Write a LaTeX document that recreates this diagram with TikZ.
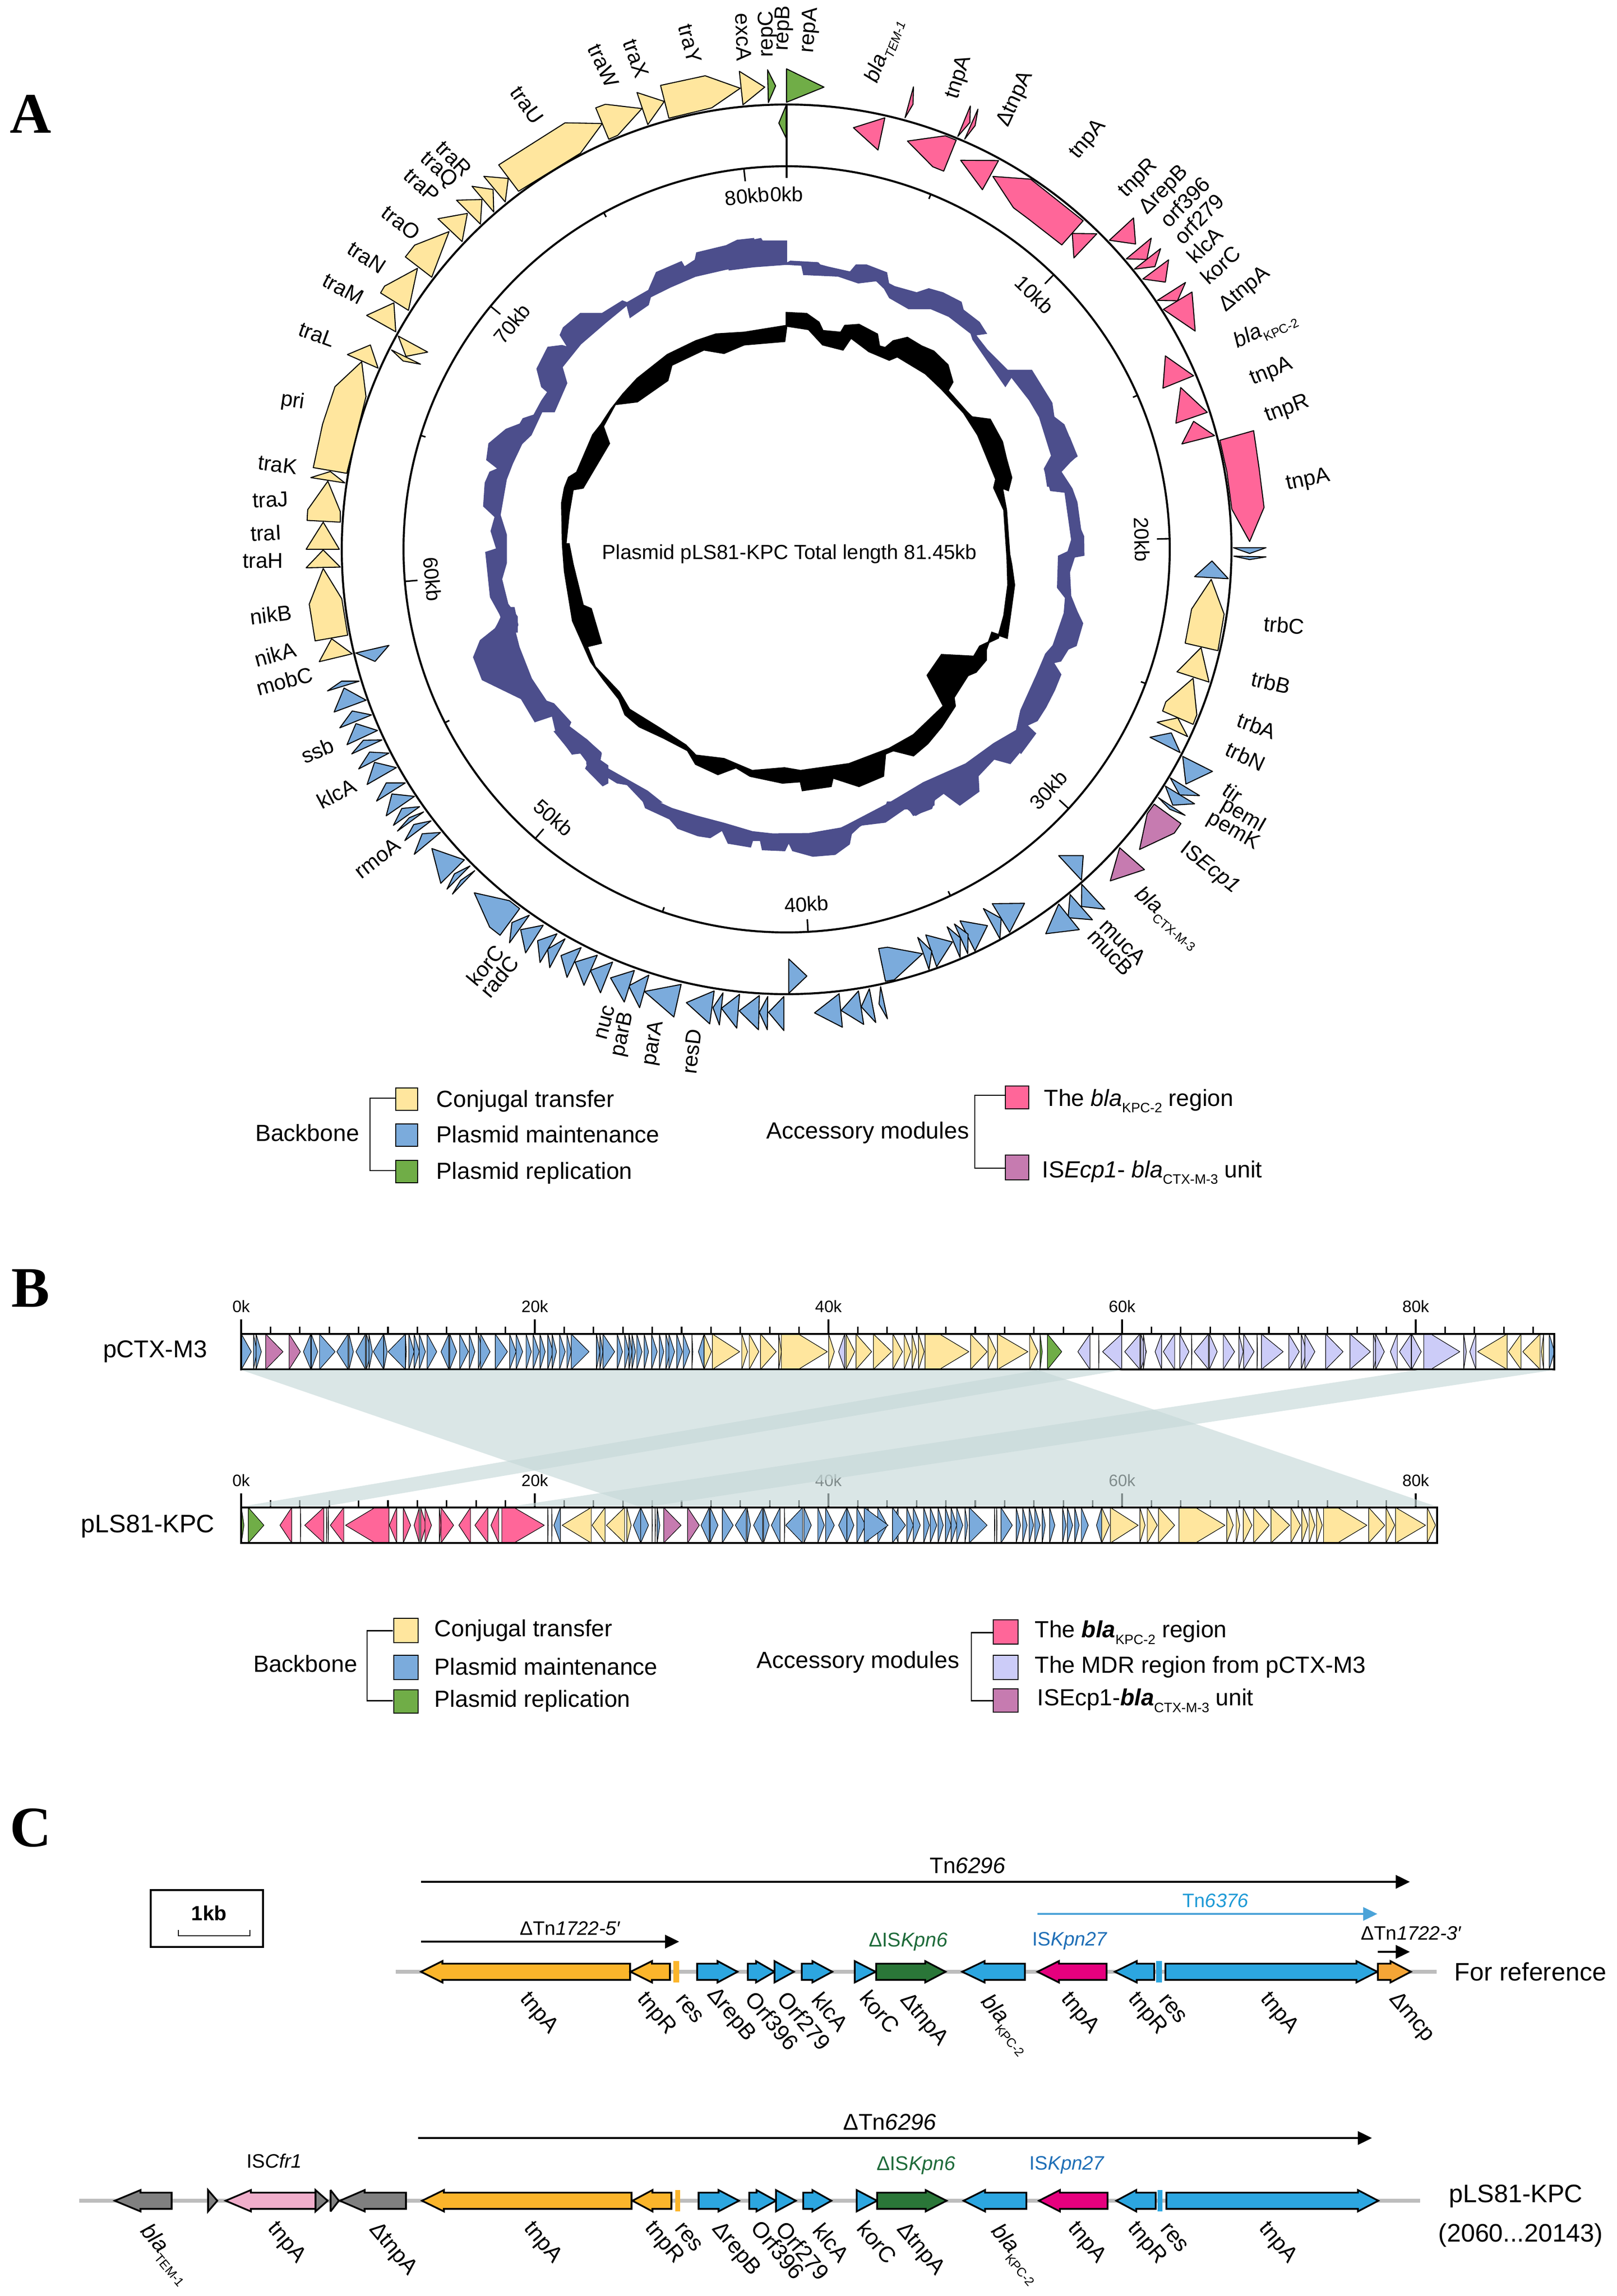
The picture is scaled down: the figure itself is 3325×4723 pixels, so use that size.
\documentclass[tikz,border=0pt]{standalone}
\usepackage{fontspec}
\setmainfont{Liberation Sans}
\newfontfamily\serifb{Liberation Serif}
\usetikzlibrary{arrows.meta}
\newdimen\fdim
\newcommand\fpx[1]{\fdim=#1pt \fdim=0.24\fdim \fontsize{\fdim}{1.2\fdim}\selectfont}
\newcommand\bla[2]{\textit{bla}\raisebox{-.55ex}{\fpx{#1}#2}}
\newcommand\blb[2]{\textbf{\textit{bla}}\raisebox{-.55ex}{\fpx{#1}#2}}
\definecolor{gY}{HTML}{FFE69E}
\definecolor{gB}{HTML}{7BABDC}
\definecolor{gP}{HTML}{FF6699}
\definecolor{gG}{HTML}{70AD47}
\definecolor{gV}{HTML}{C67BB0}
\definecolor{gL}{HTML}{CCCCF8}
\definecolor{ringP}{HTML}{4C4E8C}
\definecolor{bandc}{rgb}{.776,.849,.849}
\definecolor{cO}{HTML}{FBB52B}
\definecolor{cB}{HTML}{2CA6E0}
\definecolor{cG}{HTML}{2A7638}
\definecolor{cM}{HTML}{E6007E}
\definecolor{cK}{HTML}{F5A536}
\definecolor{cPk}{HTML}{F0AECB}
\definecolor{cGy}{HTML}{808080}
\definecolor{cLn}{HTML}{BDBDBD}
\definecolor{tG}{HTML}{1E6B3A}
\definecolor{tB}{HTML}{1F6FB7}
\definecolor{tC}{HTML}{1E9AD6}
\definecolor{aC}{HTML}{4BA3D8}
\newcounter{lb}
\newcommand\glab[4]{\stepcounter{lb}\node[lab,rotate=#3] (lb\thelb) at (#1,#2) {#4};}
\newcommand\clab[3]{\stepcounter{lb}\node[clabs] (lb\thelb) at (#1,#2) {#3};}
\newcommand\bt[4]{\foreach \ta/\tb in {#4}{\draw[bgene=#1] (\ta,#2)--(\tb,{(#2+#3)/2})--(\ta,#3)--cycle;}}
\newcommand\bp[6]{\draw[bgene=#1] (#4,#2)--(#5,#2)--(#6,{(#2+#3)/2})--(#5,#3)--(#4,#3)--cycle;}
\newcommand\carr[5]{\draw[cgene=#1] (#3,{#2-16.7})--(#4,{#2-16.7})--(#4,{#2-22})--(#5,#2)--(#4,{#2+22})--(#4,{#2+16.7})--(#3,{#2+16.7})--cycle;}
\newcommand\tnarrow[6]{\coordinate (#1s) at (#3,#4); \coordinate (#1e) at (#5,#4); \draw[tnar,draw=#2,fill=#2,line width=#6] (#1s)--(#1e);}
\tikzset{
 zm/.style n args={4}{shift={(#1,#2)},xscale=#3/1568,yscale=#4/1568},
 gene/.style={draw=black,line width=0.5pt,line join=round,fill=#1},
 bgene/.style={draw=black,line width=0.28pt,line join=round,fill=#1},
 cgene/.style={draw=black,line width=0.85pt,line join=miter,miter limit=3,fill=#1},
 lab/.style={font=\fpx{44},inner sep=0pt,anchor=center},
 clabs/.style={font=\fpx{46},inner sep=0pt,anchor=center,rotate=-50},
 kbl/.style={font=\fpx{42},inner sep=0pt,anchor=center},
 tick/.style={line width=0.75pt},
 ring/.style={line width=1pt},
 rp/.style={fill=ringP,draw=ringP,line width=0.7pt,line join=miter},
 leg/.style={font=\fpx{48},inner sep=0pt,anchor=west},
 legb/.style={font=\fpx{48},inner sep=0pt,anchor=base west},
 legc/.style={font=\fpx{48},inner sep=0pt,anchor=base},
 lbox/.style={draw=black,line width=0.5pt,fill=#1},
 brk/.style={line width=0.7pt},
 tnar/.style={-{Triangle[length=7pt,width=6.6pt]}},
 panel/.style={font=\fpx{118}\serifb\bfseries,inner sep=0pt,anchor=center},
 tlab/.style={font=\fpx{34},inner sep=0pt,anchor=center},
}
\begin{document}
\begin{tikzpicture}[x=0.24pt,y=-0.24pt]
\useasboundingbox (0,0) rectangle (3325,4723);
\node[panel] (pA) at (63,235) {A};
\node[panel] (pB) at (63,2650) {B};
\node[panel] (pC) at (63,3760) {C};
% ---- rings
\draw[ring] (1618,1130) circle[radius=915];
\draw[ring] (1618,1130) circle[radius=788];
\draw[ring] (1618,215)--(1618,366);
\foreach \k in {5,10,...,80}{
 \pgfmathtruncatemacro\mm{mod(\k,10)}
 \pgfmathsetmacro\tl{\mm==0?762:778}
 \pgfmathsetmacro\cw{\k/81.45*360}
 \draw[line width=0.75pt] ({1618+788*sin(\cw)},{1130-788*cos(\cw)})--({1618+\tl*sin(\cw)},{1130-\tl*cos(\cw)});
}
\foreach \k/\rr in {0/0,10/-44.2,20/-88.4,30/47.4,40/3.2,50/-41,60/-85.2,70/50.6,80/6.4}{
 \pgfmathsetmacro\cw{\k/81.45*360}
 \node[kbl,rotate=\rr] (kb\k) at ({1618+731*sin(\cw)},{1130-731*cos(\cw)}) {\k kb};
}
% ---- purple ring
\begin{scope}[zm={1500}{0}{1300}{1000}]
\path[rp] (0,800)--(20,785)--(78,770)--(82,778)--(142,778)--(142,850)--(152,843)--(220,848)--(225,855)--(245,862)--(300,878)--(315,855)--(340,855)--(390,880)--(395,915)--(410,925)--(465,945)--(495,932)--(530,945)--(575,975)--(580,1000)--(620,1040)--(637,1075)--(610,1080)--(640,1130)--(690,1195)--(750,1195)--(800,1300)--(805,1345)--(830,1370)--(862,1470)--(845,1490)--(820,1525)--(845,1568)--(790,1568)--(783,1510)--(800,1470)--(770,1345)--(745,1290)--(700,1215)--(685,1245)--(650,1180)--(605,1095)--(600,1075)--(545,1020)--(500,995)--(445,995)--(398,960)--(385,930)--(365,905)--(320,912)--(270,890)--(185,885)--(180,855)--(142,852)--(60,860)--(0,870)--cycle;
\end{scope}
\begin{scope}[zm={2100}{900}{800}{1100}]
\path[rp] (195,0)--(225,55)--(165,80)--(160,100)--(205,150)--(225,190)--(240,270)--(252,290)--(253,345)--(215,350)--(195,395)--(200,465)--(225,510)--(248,545)--(222,610)--(190,620)--(160,655)--(130,660)--(160,695)--(135,740)--(100,790)--(65,830)--(20,845)--(58,868)--(0,925)--(-30,900)--(0,800)--(65,695)--(100,635)--(130,610)--(175,515)--(180,470)--(148,440)--(152,348)--(190,335)--(205,300)--(178,160)--(120,155)--(95,92)--(125,60)--(135,40)--(110,0)--cycle;
\end{scope}
\begin{scope}[zm={1000}{600}{1300}{1100}]
\path[rp] (1340,1270)--(1362,1295)--(1300,1383)--(1260,1370)--(1220,1420)--(1222,1465)--(1175,1505)--(1135,1470)--(1112,1490)--(1105,1515)--(1060,1535)--(1045,1510)--(990,1555)--(900,1568)--(890,1568)--(1000,1500)--(1085,1440)--(1190,1385)--(1260,1325)--cycle;
\path[rp] (205,1275)--(250,1315)--(285,1355)--(280,1385)--(400,1465)--(433,1496)--(391,1496)--(350,1445)--(325,1440)--(250,1385)--(250,1350)--(215,1355)--(170,1290)--cycle;
\end{scope}
\begin{scope}[zm={1100}{1650}{1300}{600}]
\path[rp] (270,0)--(275,30)--(335,90)--(355,140)--(405,180)--(435,190)--(465,150)--(480,220)--(535,240)--(540,205)--(560,205)--(565,255)--(620,260)--(630,215)--(640,260)--(690,290)--(745,280)--(780,225)--(785,170)--(805,130)--(875,40)--(925,35)--(945,70)--(990,15)--(990,0)--(875,0)--(870,35)--(810,90)--(760,140)--(680,170)--(590,172)--(540,160)--(470,115)--(400,75)--(340,35)--(305,0)--cycle;
\end{scope}
\begin{scope}[zm={450}{1250}{800}{850}]
\path[rp] (1190,0)--(1205,65)--(1195,95)--(1210,150)--(1260,270)--(1320,355)--(1350,365)--(1418,435)--(1405,465)--(1450,510)--(1480,500)--(1540,550)--(1530,575)--(1568,600)--(1568,665)--(1548,675)--(1480,610)--(1490,590)--(1450,540)--(1425,555)--(1360,470)--(1345,410)--(1275,432)--(1220,345)--(1063,273)--(1028,188)--(1055,125)--(1115,80)--(1140,40)--(1125,0)--cycle;
\end{scope}
\begin{scope}[zm={550}{150}{1000}{1150}]
\path[rp] (732,1568)--(755,1525)--(720,1470)--(705,1345)--(740,1335)--(722,1285)--(735,1245)--(698,1215)--(703,1150)--(718,1120)--(745,1110)--(708,1085)--(715,1040)--(770,1000)--(815,985)--(825,970)--(860,960)--(885,920)--(905,895)--(885,880)--(870,830)--(905,770)--(950,765)--(970,770)--(945,735)--(955,715)--(1010,675)--(1080,675)--(1145,640)--(1160,645)--(1230,610)--(1255,560)--(1335,530)--(1345,545)--(1380,525)--(1385,505)--(1480,485)--(1515,470)--(1568,465)--(1568,540)--(1480,550)--(1380,570)--(1300,600)--(1235,628)--(1228,650)--(1170,685)--(1160,650)--(1090,700)--(1010,760)--(950,825)--(965,870)--(925,950)--(885,950)--(850,1015)--(820,1040)--(790,1095)--(770,1140)--(750,1240)--(770,1295)--(770,1375)--(755,1420)--(775,1490)--(805,1525)--(805,1568)--cycle;
\end{scope}
% ---- black ring
\begin{scope}[zm={1000}{600}{1300}{1100}]
\filldraw[black,line width=0.9pt,even odd rule] (745,62)--(795,65)--(825,90)--(835,115)--(880,120)--(890,100)--(925,97)--(970,125)--(975,160)--(990,165)--(1010,145)--(1045,135)--(1080,160)--(1110,175)--(1145,215)--(1157,265)--(1145,290)--(1190,350)--(1205,368)--(1250,375)--(1280,440)--(1290,490)--(1303,545)--(1295,582)--(1280,575)--(1290,640)--(1298,770)--(1303,800)--(1310,860)--(1302,930)--(1292,1015)--(1255,1000)--(1240,1050)--(1240,1080)--(1215,1115)--(1195,1125)--(1160,1190)--(1163,1215)--(1130,1275)--(1095,1325)--(1060,1360)--(1010,1345)--(990,1355)--(985,1420)--(925,1450)--(860,1425)--(855,1450)--(785,1462)--(780,1436)--(735,1440)--(655,1420)--(620,1395)--(575,1415)--(520,1385)--(500,1345)--(440,1308)--(380,1275)--(345,1240)--(330,1195)--(290,1135)--(260,1085)--(245,1045)--(215,965)--(195,820)--(190,740)--(188,620)--(195,575)--(205,545)--(225,530)--(265,420)--(285,390)--(310,345)--(340,300)--(375,255)--(450,185)--(520,145)--(570,125)--(640,120)--(745,100)--cycle
 (745,100)--(800,110)--(835,155)--(885,170)--(905,135)--(950,175)--(1000,200)--(1020,190)--(1090,240)--(1130,285)--(1185,355)--(1220,420)--(1265,550)--(1260,575)--(1285,640)--(1293,780)--(1295,860)--(1285,950)--(1270,1015)--(1225,1040)--(1210,1070)--(1130,1065)--(1095,1125)--(1135,1215)--(1060,1300)--(1000,1340)--(900,1385)--(780,1405)--(740,1397)--(660,1405)--(590,1370)--(520,1360)--(495,1330)--(430,1280)--(355,1225)--(330,1175)--(270,1100)--(250,1040)--(285,1030)--(260,930)--(240,920)--(215,800)--(205,740)--(197,740)--(205,650)--(215,580)--(240,575)--(305,445)--(290,395)--(320,330)--(375,322)--(450,260)--(460,215)--(540,170)--(590,180)--(640,155)--(740,145)--cycle;
\end{scope}
\node[font=\fpx{42},inner sep=0pt] (ctitle) at (1624,1140) {Plasmid pLS81-KPC Total length 81.45kb};
% ---- circular genes, top right
\begin{scope}[zm={1500}{0}{1300}{1000}]
\draw[gene=gG] (142,222)--(142,330)--(235,281)--cycle;
\draw[gene=gG] (95,225)--(97,331)--(115,277)--cycle;
\draw[gene=gG] (141,340)--(123,397)--(141,445)--cycle;
\draw[gene=gY] (25,230)--(34,338)--(88,281)--cycle;
\draw[gene=gP] (457,280)--(436,380)--(456,336)--cycle;
\draw[gene=gP] (308,412)--(386,380)--(369,484)--cycle;
\draw[gene=gP] (598,342)--(567,440)--(597,395)--cycle;
\draw[gene=gP] (617,352)--(584,449)--(610,405)--cycle;
\draw[gene=gP] (442,455)--(536,438)--(563,452)--(532,552)--(505,538)--cycle;
\draw[gene=gP] (574,517)--(668,518)--(628,612)--cycle;
\draw[gene=gP] (654,569)--(748,578)--(878,712)--(825,790)--(742,706)--(705,670)--cycle;
\draw[gene=gP] (851,753)--(912,754)--(855,832)--cycle;
\draw[gene=gP] (943,775)--(1003,703)--(1008,787)--cycle;
\draw[gene=gP] (985,835)--(1047,768)--(1036,837)--cycle;
\draw[gene=gP] (1005,868)--(1070,802)--(1056,860)--cycle;
\draw[gene=gP] (1026,900)--(1090,838)--(1082,910)--cycle;
\draw[gene=gP] (1062,969)--(1132,911)--(1112,970)--cycle;
\draw[gene=gP] (1077,998)--(1148,942)--(1156,1068)--cycle;
\draw[gene=gP] (1082,1148)--(1152,1212)--(1076,1252)--cycle;
\draw[gene=gP] (1120,1250)--(1186,1330)--(1108,1365)--cycle;
\draw[gene=gP] (1152,1359)--(1204,1405)--(1123,1432)--cycle;
\end{scope}
% ---- right
\begin{scope}[zm={2100}{900}{800}{1100}]
\draw[gene=gP] (802,8)--(938,-20)--(960,90)--(980,205)--(922,305)--(850,210)--(830,100)--cycle;
\draw[gene=gB] (856,323)--(988,323)--(922,340)--cycle;
\draw[gene=gB] (858,348)--(988,350)--(922,358)--cycle;
\draw[gene=gB] (700,408)--(770,362)--(836,414)--cycle;
\draw[gene=gY] (767,416)--(819,518)--(794,625)--(662,603)--(688,503)--cycle;
\draw[gene=gY] (726,616)--(758,717)--(629,687)--cycle;
\draw[gene=gY] (694,706)--(709,813)--(694,841)--(571,802)--(584,775)--cycle;
\draw[gene=gY] (632,822)--(672,877)--(549,835)--cycle;
\draw[gene=gB] (606,866)--(642,924)--(520,879)--cycle;
\draw[gene=gB] (652,935)--(772,979)--(665,1016)--cycle;
\draw[gene=gB] (602,998)--(720,1050)--(640,1048)--cycle;
\draw[gene=gB] (582,1022)--(700,1074)--(612,1078)--cycle;
\draw[gene=gB] (554,1056)--(662,1108)--(600,1090)--cycle;
\draw[gene=gV] (537,1075)--(645,1132)--(618,1160)--(478,1208)--(509,1103)--cycle;
\draw[gene=gV] (398,1203)--(498,1267)--(360,1300)--cycle;
\draw[gene=gB] (152,1226)--(251,1226)--(244,1298)--cycle;
\draw[gene=gB] (245,1310)--(338,1383)--(244,1375)--cycle;
\draw[gene=gB] (198,1340)--(288,1414)--(190,1408)--cycle;
\draw[gene=gB] (152,1368)--(235,1443)--(100,1455)--cycle;
\end{scope}
% ---- bottom
\begin{scope}[zm={1100}{1650}{1300}{600}]
\draw[gene=gB] (1135,546)--(1215,544)--(1178,700)--cycle;
\draw[gene=gB] (1113,572)--(1157,625)--(1154,735)--cycle;
\draw[gene=gB] (1055,638)--(1123,664)--(1092,800)--cycle;
\draw[gene=gB] (1041,655)--(1075,710)--(1074,815)--cycle;
\draw[gene=gB] (1023,670)--(1056,730)--(1055,835)--cycle;
\draw[gene=gB] (970,714)--(1036,752)--(997,885)--cycle;
\draw[gene=gB] (950,727)--(985,800)--(978,900)--cycle;
\draw[gene=gB] (853,787)--(875,780)--(962,815)--(892,955)--(870,963)--cycle;
\draw[gene=gB] (630,843)--(675,935)--(630,1028)--cycle;
\draw[gene=gB] (858,992)--(875,1165)--(854,1085)--cycle;
\draw[gene=gB] (830,1003)--(846,1185)--(810,1100)--cycle;
\draw[gene=gB] (803,1015)--(816,1195)--(760,1120)--cycle;
\draw[gene=gB] (755,1030)--(763,1210)--(694,1133)--cycle;
\draw[gene=gB] (618,1045)--(618,1228)--(580,1130)--cycle;
\draw[gene=gB] (578,1045)--(577,1224)--(557,1130)--cycle;
\draw[gene=gB] (557,1040)--(555,1224)--(507,1122)--cycle;
\draw[gene=gB] (508,1033)--(501,1215)--(463,1108)--cycle;
\draw[gene=gB] (467,1025)--(458,1198)--(442,1105)--cycle;
\draw[gene=gB] (445,1015)--(434,1192)--(376,1078)--cycle;
\draw[gene=gB] (363,980)--(345,1155)--(272,1018)--cycle;
\draw[gene=gB] (283,930)--(260,1105)--(233,988)--cycle;
\draw[gene=gB] (247,905)--(222,1075)--(188,945)--cycle;
\draw[gene=gB] (193,860)--(163,1025)--(138,905)--cycle;
\draw[gene=gB] (155,823)--(122,985)--(100,860)--cycle;
\draw[gene=gB] (115,782)--(80,942)--(65,825)--cycle;
\draw[gene=gB] (75,735)--(37,890)--(32,790)--cycle;
\draw[gene=gB] (55,708)--(13,862)--(7,745)--cycle;
\end{scope}
% ---- lower left
\begin{scope}[zm={450}{1250}{800}{850}]
\draw[gene=gY] (455,118)--(538,175)--(405,205)--cycle;
\draw[gene=gB] (552,172)--(686,143)--(630,204)--cycle;
\draw[gene=gB] (566,279)--(495,279)--(438,316)--cycle;
\draw[gene=gB] (594,351)--(505,305)--(465,396)--cycle;
\draw[gene=gB] (616,407)--(538,392)--(488,456)--cycle;
\draw[gene=gB] (640,466)--(553,440)--(517,520)--cycle;
\draw[gene=gB] (658,502)--(583,503)--(536,555)--cycle;
\draw[gene=gB] (686,552)--(608,548)--(564,612)--cycle;
\draw[gene=gB] (716,607)--(628,587)--(598,671)--cycle;
\draw[gene=gB] (752,665)--(675,665)--(636,734)--cycle;
\draw[gene=gB] (789,716)--(698,707)--(675,790)--cycle;
\draw[gene=gB] (810,755)--(738,762)--(704,826)--cycle;
\draw[gene=gB] (826,775)--(768,797)--(720,848)--cycle;
\draw[gene=gB] (856,809)--(786,823)--(750,884)--cycle;
\draw[gene=gB] (894,853)--(820,858)--(788,936)--cycle;
\draw[gene=gB] (990,957)--(859,914)--(895,1046)--cycle;
\draw[gene=gB] (1013,980)--(950,1010)--(920,1068)--cycle;
\draw[gene=gB] (1032,998)--(975,1035)--(942,1087)--cycle;
\draw[gene=gB] (1213,1142)--(1172,1112)--(1030,1082)--(1092,1212)--(1134,1243)--cycle;
\draw[gene=gB] (1252,1167)--(1182,1195)--(1172,1272)--cycle;
\draw[gene=gB] (1308,1205)--(1217,1222)--(1237,1310)--cycle;
\end{scope}
% ---- upper left
\begin{scope}[zm={550}{150}{1000}{1150}]
\draw[gene=gY] (135,1490)--(180,1390)--(240,1475)--(259,1577)--(154,1593)--cycle;
\draw[gene=gY] (180,1338)--(235,1386)--(125,1388)--cycle;
\draw[gene=gY] (180,1260)--(232,1336)--(125,1336)--cycle;
\draw[gene=gY] (195,1145)--(235,1230)--(235,1260)--(128,1255)--(130,1225)--cycle;
\draw[gene=gY] (203,1118)--(250,1150)--(140,1135)--cycle;
\draw[gene=gY] (304,810)--(318,908)--(256,1123)--(148,1107)--(178,985)--(218,880)--cycle;
\draw[gene=gY] (332,763)--(357,828)--(258,790)--cycle;
\draw[gene=gY] (422,738)--(517,783)--(447,795)--cycle;
\draw[gene=gY] (400,777)--(494,817)--(438,808)--cycle;
\draw[gene=gY] (408,645)--(414,726)--(320,680)--cycle;
\draw[gene=gY] (484,548)--(455,666)--(365,617)--(378,598)--cycle;
\draw[gene=gY] (586,445)--(530,573)--(445,516)--(475,483)--cycle;
\draw[gene=gY] (645,394)--(628,473)--(550,409)--cycle;
\draw[gene=gY] (692,355)--(687,424)--(610,357)--cycle;
\draw[gene=gY] (728,327)--(730,390)--(660,318)--cycle;
\draw[gene=gY] (777,296)--(767,362)--(698,290)--cycle;
\draw[gene=gY] (1080,142)--(1010,225)--(810,332)--(746,258)--(960,140)--cycle;
\draw[gene=gY] (1208,100)--(1130,175)--(1101,186)--(1059,98)--(1090,88)--cycle;
\draw[gene=gY] (1280,80)--(1227,145)--(1192,55)--cycle;
\draw[gene=gY] (1525,43)--(1433,98)--(1295,127)--(1268,35)--(1412,8)--cycle;
\end{scope}
% ---- circular labels
\glab{1529}{76}{-88}{excA}
\glab{1579}{70}{90}{repC}
\glab{1612}{58}{88}{repB}
\glab{1666}{62}{85}{repA}
\glab{1819}{105}{70}{\bla{26}{\textit{TEM-1}}}
\glab{1973}{159}{72}{tnpA}
\glab{2089}{204}{65}{ΔtnpA}
\glab{2238}{287}{50}{tnpA}
\glab{2342}{367}{45}{tnpR}
\glab{2395}{392}{45}{ΔrepB}
\glab{2437}{415}{45}{orf396}
\glab{2466}{450}{45}{orf279}
\glab{2478}{504}{45}{klcA}
\glab{2510}{545}{42}{korC}
\glab{2561}{596}{40}{ΔtnpA}
\glab{2603}{679}{25}{\bla{26}{KPC-2}}
\glab{2615}{765}{22}{tnpA}
\glab{2648}{842}{20}{tnpR}
\glab{2691}{988}{12}{tnpA}
\glab{2641}{1286}{-5}{trbC}
\glab{2614}{1404}{-13}{trbB}
\glab{2585}{1493}{-20}{trbA}
\glab{2562}{1556}{-25}{trbN}
\glab{2536}{1630}{-35}{tir}
\glab{2557}{1679}{-30}{pemI}
\glab{2536}{1710}{-30}{pemK}
\glab{2488}{1786}{-38}{IS\textit{Ecp1}}
\glab{2401}{1889}{-40}{\bla{26}{CTX-M-3}}
\glab{2310}{1937}{-45}{mucA}
\glab{2284}{1959}{-47}{mucB}
\glab{1423}{2163}{83}{resD}
\glab{1345}{2146}{80}{parA}
\glab{1282}{2128}{78}{parB}
\glab{1245}{2103}{75}{nuc}
\glab{998}{1986}{50}{korC}
\glab{1027}{2009}{50}{radC}
\glab{776}{1765}{38}{rmoA}
\glab{692}{1632}{28}{klcA}
\glab{653}{1544}{22}{ssb}
\glab{585}{1401}{15}{mobC}
\glab{566}{1346}{15}{nikA}
\glab{557}{1264}{7}{nikB}
\glab{541}{1154}{0}{traH}
\glab{547}{1097}{3}{traI}
\glab{556}{1028}{3}{traJ}
\glab{571}{956}{-7}{traK}
\glab{602}{826}{-8}{pri}
\glab{652}{688}{-20}{traL}
\glab{706}{594}{-28}{traM}
\glab{754}{530}{-33}{traN}
\glab{825}{458}{-38}{traO}
\glab{867}{381}{-42}{traP}
\glab{902}{350}{-42}{traQ}
\glab{933}{326}{-45}{traR}
\glab{1084}{216}{-55}{traU}
\glab{1241}{135}{-65}{traW}
\glab{1308}{120}{-70}{traX}
\glab{1419}{90}{-75}{traY}
% ---- legend A
\node[legc] (lgA1) at (632,2347) {Backbone};
\draw[brk] (814,2259)--(761,2259)--(761,2408)--(814,2408);
\draw[lbox=gY] (814,2238) rectangle (859,2284);
\draw[lbox=gB] (814,2312) rectangle (859,2358);
\draw[lbox=gG] (814,2387) rectangle (859,2433);
\node[legb] (lgA2) at (897,2277) {Conjugal transfer};
\node[legb] (lgA3) at (897,2350) {Plasmid maintenance};
\node[legb] (lgA4) at (897,2425) {Plasmid replication};
\node[legc] (lgA5) at (1785,2342) {Accessory modules};
\draw[brk] (2068,2253)--(2005,2253)--(2005,2403)--(2068,2403);
\draw[lbox=gP] (2068,2234) rectangle (2116,2281);
\draw[lbox=gV] (2068,2376) rectangle (2116,2427);
\node[legb] (lgA6) at (2147,2275) {The \bla{28}{KPC-2} region};
\node[legb] (lgA7) at (2143,2422) {IS\textit{Ecp1}- \bla{28}{CTX-M-3} unit};
% ---- panel B tracks
\node[font=\fpx{50},inner sep=0pt] (t1) at (319,2780) {pCTX-M3};
\node[font=\fpx{52},inner sep=0pt] (t2) at (304,3140) {pLS81-KPC};
\begin{scope}[shift={(450,0)},xscale=1400/1568]
\bt{gB}{2744}{2817}{52/75,80/88,86/98,212/195,213/228,232/268,298/272,300/310,338/316,340/352,346/354,380/356,380/388,430/390,430/432,438/450,450/462,462/476,480/502,530/512,532/548,555/575,577/590,598/608,603/625,637/665,670/685,685/700,708/720,724/738,740/752,758/770,768/778,785/798,802/812,812/853,870/878,878/885,885/912,918/930,935/945,945/952,952/960,963/975,980/990,997/1010,1015/1025,1030/1040,1037/1050,1055/1068,1070/1085,1090/1092,1118/1105}
\bt{gV}{2744}{2817}{108/148,162/188}
\bt{gY}{2744}{2817}{1118/1135,1137/1200,1205/1218,1222/1244,1248/1284,1290/1296,1405/1418,1445/1465,1468/1504,1508/1550}
\bt{gL}{2744}{2817}{1442/1428}
\bp{gY}{2744}{2817}{1296}{1335}{1402}
\end{scope}
\begin{scope}[shift={(1800,0)},xscale=1400/1568]
\bt{gY}{2744}{2817}{41/63,67/82,85/96,100/113,220/258,260/279,282/352,356/375,1488/1459,1532/1492,1456/1388,1540/1535}
\bp{gY}{2744}{2817}{115}{148}{216}
\bt{gG}{2744}{2817}{380/385,397/430}
\bt{gL}{2744}{2817}{495/467,515/516,568/524,610/575,612/625,618/624,660/645,690/664,702/723,729/730,768/735,770/788,802/828,838/848,849/873,880/881,890/940,953/977,982/994,990/1013,1038/1078,1094/1141,1148/1158,1153/1173,1203/1187,1235/1208,1236/1258,1356/1362,1384/1370}
\bp{gL}{2744}{2817}{1264}{1280}{1347}
\bt{gB}{2744}{2817}{1553/1565}
\end{scope}
\draw[line width=1.1pt] (496,2744) rectangle (3197,2817);
\foreach \k in {0,2,...,88}{
 \pgfmathtruncatemacro\mm{mod(\k,20)}
 \pgfmathsetmacro\tl{\mm==0?30:15}
 \draw[tick] ({496+30.2*\k},2744)--++(0,-\tl);
}
\foreach \k in {0,2,...,80}{
 \pgfmathtruncatemacro\mm{mod(\k,20)}
 \pgfmathsetmacro\tl{\mm==0?29:15}
 \draw[tick] ({496+30.2*\k},3101)--++(0,-\tl);
}
\foreach \k in {0,20,40,60,80}{
 \node[tlab] (ta\k) at ({496+30.2*\k},2687) {\k k};
 \node[tlab] (tb\k) at ({496+30.2*\k},3045) {\k k};
}
% bands
\fill[bandc,opacity=.65] (496,2818)--(2135,2818)--(2952,3098)--(1312,3098)--cycle;
\fill[bandc,opacity=.65] (2137,2818)--(2307,2818)--(673,3098)--(503,3098)--cycle;
\fill[bandc,opacity=.65] (2916,2818)--(3197,2818)--(1343,3098)--(1057,3098)--cycle;
% bottom track genes
\begin{scope}[shift={(450,0)},xscale=1400/1568]
\bt{gG}{3101}{3174}{52/58,68/104}
\bt{gP}{3101}{3174}{168/141,188/189,242/198,248/249,252/253,288/257,410/393,425/442,462/450,465/478,475/490,508/512,512/541,580/553,620/590,645/627}
\bp{gP}{3101}{3174}{392}{360}{292}
\bp{gP}{3101}{3174}{652}{680}{750}
\bt{gB}{3101}{3174}{758/759,767/768,787/772,972/955,972/990,998/999,1005/1006,1010/1016,1130/1111,1132/1150,1160/1185,1215/1190,1217/1225,1253/1232,1255/1268,1293/1273,1303/1304,1345/1306,1348/1365,1380/1395,1398/1418,1447/1428,1447/1463,1470/1490,1495/1507,1518/1540,1565/1553}
\bt{gY}{3101}{3174}{858/791,890/860,935/893,940/950}
\bt{gV}{3101}{3174}{1025/1065,1080/1107}
\end{scope}
\begin{scope}[shift={(1800,0)},xscale=1400/1568]
\bt{gB}{3101}{3174}{-25/30,40/70,73/88,88/104,112/125,127/142,145/157,162/175,175/188,188/202,207/213,217/258,275/276,280/281,290/316,325/335,340/350,355/365,368/380,385/392,402/414,432/440,443/455,460/470,475/491,522/510}
\bt{gY}{3101}{3174}{522/540,542/606,610/622,627/650,653/690,810/825,832/840,848/868,872/908,912/955,958/980,983/997,1000/1013,1017/1030,1137/1174,1177/1197,1199/1268,1272/1291}
\bp{gY}{3101}{3174}{700}{738}{806}
\bp{gY}{3101}{3174}{1033}{1065}{1133}
\end{scope}
\draw[line width=1.1pt] (496,3101) rectangle (2956,3174);
% ---- legend B
\node[legc] (lgB1) at (628,3439) {Backbone};
\draw[brk] (808,3354)--(755,3354)--(755,3498)--(808,3498);
\draw[lbox=gY] (810,3329) rectangle (860,3379);
\draw[lbox=gB] (810,3405) rectangle (860,3455);
\draw[lbox=gG] (810,3476) rectangle (860,3524);
\node[leg] (lgB2) at (893,3354) {Conjugal transfer};
\node[leg] (lgB3) at (893,3428) {Plasmid maintenance};
\node[leg] (lgB4) at (893,3499) {Plasmid replication};
\node[legc] (lgB5) at (1765,3431) {Accessory modules};
\draw[brk] (2043,3358)--(1998,3358)--(1998,3498)--(2043,3498);
\draw[lbox=gP] (2043,3332) rectangle (2094,3382);
\draw[lbox=gL] (2043,3405) rectangle (2094,3455);
\draw[lbox=gV] (2043,3474) rectangle (2094,3522);
\node[leg] (lgB6) at (2128,3358) {The \blb{28}{KPC-2} region};
\node[leg] (lgB7) at (2128,3429) {The MDR region from pCTX-M3};
\node[leg] (lgB8) at (2133,3498) {ISEcp1-\blb{28}{CTX-M-3} unit};
% ---- panel C top row
\draw[line width=1.05pt] (310,3888) rectangle (541,4005);
\node[font=\fpx{42}\bfseries,inner sep=0pt] (sc) at (430,3935) {1kb};
\draw[line width=0.6pt] (367,3970)--(367,3982)--(514,3982)--(514,3970);
\draw[cLn,line width=2pt] (814,4056)--(2955,4056);
\carr{cO}{4056}{1296}{910}{866}
\carr{cO}{4056}{1378}{1341}{1297}
\fill[cO] (1385,4034) rectangle (1397,4078);
\carr{cB}{4056}{1434}{1476}{1517}
\carr{cB}{4056}{1538}{1555}{1593}
\carr{cB}{4056}{1593}{1593}{1633}
\carr{cB}{4056}{1649}{1671}{1712}
\carr{cB}{4056}{1758}{1758}{1801}
\carr{cG}{4056}{1802}{1903}{1945}
\carr{cB}{4056}{2108}{2025}{1979}
\carr{cM}{4056}{2276}{2178}{2134}
\carr{cB}{4056}{2374}{2338}{2293}
\fill[cB] (2378,4034) rectangle (2390,4078);
\carr{cB}{4056}{2397}{2790}{2833}
\carr{cK}{4056}{2834}{2860}{2902}
\tnarrow{tA}{black}{866}{3871}{2900}{1pt}
\tnarrow{tB}{black}{866}{3994}{1397}{1pt}
\tnarrow{tC}{aC}{2134}{3937}{2833}{0.8pt}
\tnarrow{tD}{black}{2834}{4015}{2900}{1pt}
\node[font=\fpx{46},inner sep=0pt] (x1) at (1990,3838) {Tn\textit{6296}};
\node[font=\fpx{40},inner sep=0pt] (x2) at (1173,3967) {ΔTn\textit{1722-5′}};
\node[font=\fpx{41},inner sep=0pt,text=tG] (x3) at (1868,3994) {ΔIS\textit{Kpn6}};
\node[font=\fpx{40},inner sep=0pt,text=tC] (x4) at (2500,3910) {Tn\textit{6376}};
\node[font=\fpx{40},inner sep=0pt,text=tB] (x5) at (2201,3993) {IS\textit{Kpn27}};
\node[font=\fpx{40},inner sep=0pt] (x6) at (2903,3977) {ΔTn\textit{1722-3′}};
\node[font=\fpx{52},inner sep=0pt] (x7) at (3148,4056) {For reference};
\clab{1107}{4142}{tnpA}
\clab{1349}{4143}{tnpR}
\clab{1418}{4132}{res}
\clab{1503}{4145}{ΔrepB}
\clab{1588}{4157}{Orf396}
\clab{1654}{4157}{Orf279}
\clab{1708}{4138}{klcA}
\clab{1810}{4138}{korC}
\clab{1899}{4155}{ΔtnpA}
\clab{2068}{4165}{\bla{26}{KPC-2}}
\clab{2220}{4142}{tnpA}
\clab{2359}{4143}{tnpR}
\clab{2412}{4132}{res}
\clab{2630}{4142}{tnpA}
\clab{2903}{4150}{Δmcp}
% ---- panel C bottom row
\draw[cLn,line width=2pt] (163,4527)--(2921,4527);
\carr{cGy}{4527}{353}{289}{236}
\carr{cGy}{4527}{428}{428}{447}
\carr{cPk}{4527}{649}{516}{464}
\carr{cGy}{4527}{649}{649}{674}
\carr{cGy}{4527}{680}{680}{697}
\carr{cGy}{4527}{835}{750}{699}
\carr{cO}{4527}{1299}{913}{868}
\carr{cO}{4527}{1381}{1342}{1301}
\fill[cO] (1389,4505) rectangle (1399,4549);
\carr{cB}{4527}{1437}{1478}{1520}
\carr{cB}{4527}{1541}{1556}{1596}
\carr{cB}{4527}{1596}{1596}{1637}
\carr{cB}{4527}{1652}{1671}{1710}
\carr{cB}{4527}{1762}{1762}{1804}
\carr{cG}{4527}{1804}{1904}{1947}
\carr{cB}{4527}{2111}{2026}{1982}
\carr{cM}{4527}{2278}{2180}{2137}
\carr{cB}{4527}{2377}{2337}{2296}
\fill[cB] (2381,4505) rectangle (2391,4549);
\carr{cB}{4527}{2399}{2793}{2835}
\tnarrow{tE}{black}{860}{4398}{2822}{1pt}
\node[font=\fpx{47},inner sep=0pt] (y1) at (1830,4365) {ΔTn\textit{6296}};
\node[font=\fpx{40},inner sep=0pt] (y2) at (564,4445) {IS\textit{Cfr1}};
\node[font=\fpx{41},inner sep=0pt,text=tG] (y3) at (1884,4454) {ΔIS\textit{Kpn6}};
\node[font=\fpx{40},inner sep=0pt,text=tB] (y4) at (2195,4454) {IS\textit{Kpn27}};
\node[font=\fpx{52},inner sep=0pt] (y5) at (3118,4518) {pLS81-KPC};
\node[font=\fpx{52},inner sep=0pt] (y6) at (3128,4598) {(2060...20143)};
\clab{340}{4637}{\bla{26}{TEM-1}}
\clab{588}{4614}{tnpA}
\clab{807}{4627}{ΔtnpA}
\clab{1115}{4614}{tnpA}
\clab{1365}{4614}{tnpR}
\clab{1416}{4602}{res}
\clab{1513}{4627}{ΔrepB}
\clab{1600}{4628}{Orf396}
\clab{1651}{4630}{Orf279}
\clab{1710}{4613}{klcA}
\clab{1804}{4612}{korC}
\clab{1892}{4627}{ΔtnpA}
\clab{2089}{4637}{\bla{26}{KPC-2}}
\clab{2234}{4614}{tnpA}
\clab{2358}{4615}{tnpR}
\clab{2415}{4603}{res}
\clab{2627}{4614}{tnpA}
\end{tikzpicture}
\end{document}
